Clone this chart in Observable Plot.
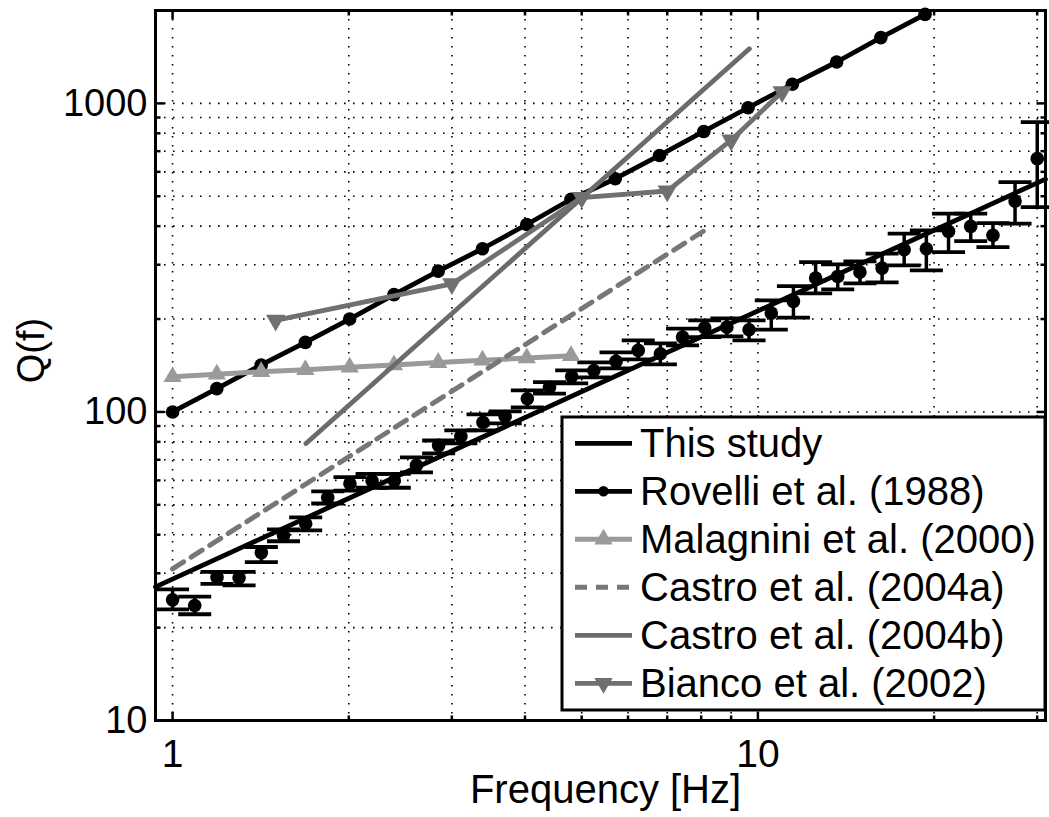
<!DOCTYPE html>
<html><head><meta charset="utf-8">
<script src="https://cdn.jsdelivr.net/npm/d3@7"></script>
<script src="https://cdn.jsdelivr.net/npm/@observablehq/plot@0.6"></script>
<style>
body{margin:0;background:#fff;}
#wrap{position:relative;width:1049px;height:817px;overflow:hidden;}
#legend{position:absolute;left:0;top:0;pointer-events:none;}
</style></head><body><div id="wrap"></div>
<script>
// ---- data ----
const studyFreq = [1.000,1.091,1.191,1.299,1.418,1.547,1.688,1.841,2.009,2.192,2.392,2.610,2.848,3.108,3.391,3.700,4.037,4.405,4.807,5.245,5.723,6.245,6.814,7.435,8.112,8.851,9.658,10.54,11.50,12.55,13.69,14.94,16.30,17.78,19.40,21.17,23.10,25.21,27.50,30.01];
const studyQ   = [24.6,23.6,29.1,29.0,35.0,39.8,43.4,52.8,58.5,59.8,59.8,67.1,77.9,83.3,92.5,96.7,110.4,120.1,130.3,136.3,145.8,158.3,154.4,174.8,187.5,188.3,184.7,209.1,228.2,271.6,274.9,283.9,292.5,335.6,338.1,384.7,399.3,373.4,482.3,662.0];
const studyQhi = [26.6,25.2,30.3,30.3,36.5,41.6,45.5,55.3,61.5,63.0,63.0,71.2,80.8,87.1,98.2,100.4,117.4,124.9,136.3,144.7,155.9,170.6,166.7,186.1,198.1,201.0,198.1,229.8,255.7,305.9,300.7,307.5,325.7,378.2,387.6,439.1,439.1,409.3,555.7,869.9];
const studyQlo = [22.9,22.1,27.7,27.4,32.6,38.1,41.3,50.5,55.6,56.8,56.8,63.7,73.4,79.1,87.1,91.8,103.4,114.6,123.7,129.4,138.4,148.0,142.6,164.3,174.8,175.7,170.6,184.7,202.0,242.2,249.5,260.9,262.9,298.5,287.6,329.6,357.8,342.1,407.4,461.2];
const fitFreq = [0.935, 31];
const fitQ    = [27.1, 568];
const rovelliFreq = [1.000,1.190,1.417,1.686,2.007,2.389,2.843,3.384,4.028,4.794,5.706,6.791,8.083,9.620,11.45,13.63,16.22,19.30];
const rovelliQ    = [100,119,142,168,200,240,286,338,405,489,570,678,811,968,1153,1362,1633,1943];
const malagniniFreq = [1.000,1.190,1.417,1.686,2.007,2.389,2.843,3.384,4.028,4.794];
const malagniniQ    = [130,132.5,135,137,139.5,142,144.5,147,149.5,152];
const castroAFreq = [1, 8.1];
const castroAQ    = [31, 387];
const castroBFreq = [1.69, 9.67];
const castroBQ    = [79, 1503];
const biancoFreq = [1.5, 3.0, 5.0, 7.0, 9.0, 11.0];
const biancoQ    = [198, 260, 495, 520, 760, 1090];
const xTicksMajor = [1, 10];
const xTicksMinor = [2,3,4,5,6,7,8,9,20,30];
const yTicksMajor = [10, 100, 1000];
const yTicksMinor = [20,30,40,50,60,70,80,90,200,300,400,500,600,700,800,900,2000];
const legendLabels = ["This study","Rovelli et al. (1988)","Malagnini et al. (2000)","Castro et al. (2004a)","Castro et al. (2004b)","Bianco et al. (2002)"];
const xLabel = "Frequency [Hz]";
const yLabel = "Q(f)";

// ---- build tables ----
const zip = (xs, ys) => xs.map((x, i) => ({x, y: ys[i]}));
const studyRows = studyFreq.map((f, i) => ({f, q: studyQ[i], lo: studyQlo[i], hi: studyQhi[i]}));
const fitRows = zip(fitFreq, fitQ);
const rovelliRows = zip(rovelliFreq, rovelliQ);
const malagniniRows = zip(malagniniFreq, malagniniQ);
const castroARows = zip(castroAFreq, castroAQ);
const castroBRows = zip(castroBFreq, castroBQ);
const biancoRows = zip(biancoFreq, biancoQ);

const cGrayLight = "#9a9a9a", cCastroA = "#777777", cCastroB = "#6b6b6b", cBianco = "#707070";
const font = "'Liberation Sans', Arial, Helvetica, sans-serif";

const capSym = {draw(ctx){ ctx.moveTo(-16.5, 0); ctx.lineTo(16.5, 0); }};
const seg = (dx, dy) => ({draw(ctx){ ctx.moveTo(0, 0); ctx.lineTo(dx, dy); }});
const dotted = {stroke: "black", strokeWidth: 1.6, strokeDasharray: "1.6,7.4"};
const tk = {stroke: "black", fill: "none", strokeWidth: 2.5};

const plot = Plot.plot({
  width: 1049, height: 817,
  marginLeft: 155, marginRight: 4, marginTop: 10, marginBottom: 97,
  style: {fontFamily: font, background: "white", color: "black", overflow: "visible"},
  x: {type: "log", domain: [0.935, 31], axis: null},
  y: {type: "log", domain: [10, 2000], axis: null},
  marks: [
    Plot.ruleX([...xTicksMajor, ...xTicksMinor], dotted),
    Plot.ruleY([...yTicksMajor, ...yTicksMinor], dotted),
    // this study: error bars + points
    Plot.ruleX(studyRows, {x: "f", y1: "lo", y2: "hi", stroke: "black", strokeWidth: 3.5}),
    Plot.dot(studyRows, {x: "f", y: "hi", symbol: capSym, stroke: "black", fill: "none", strokeWidth: 3.8}),
    Plot.dot(studyRows, {x: "f", y: "lo", symbol: capSym, stroke: "black", fill: "none", strokeWidth: 3.8}),
    Plot.dot(studyRows, {x: "f", y: "q", r: 6.8, fill: "black", stroke: "none"}),
    Plot.line(fitRows, {x: "x", y: "y", stroke: "black", strokeWidth: 4.8}),
    // Rovelli
    Plot.line(rovelliRows, {x: "x", y: "y", stroke: "black", strokeWidth: 4.8}),
    Plot.dot(rovelliRows, {x: "x", y: "y", r: 6.8, fill: "black", stroke: "none"}),
    // Malagnini
    Plot.line(malagniniRows, {x: "x", y: "y", stroke: cGrayLight, strokeWidth: 5}),
    Plot.dot(malagniniRows, {x: "x", y: "y", symbol: "triangle", r: 6.8, fill: cGrayLight, stroke: "none"}),
    // Castro a / b
    Plot.line(castroARows, {x: "x", y: "y", stroke: cCastroA, strokeWidth: 5, strokeDasharray: "13,9"}),
    Plot.line(castroBRows, {x: "x", y: "y", stroke: cCastroB, strokeWidth: 4.8}),
    // Bianco
    Plot.line(biancoRows, {x: "x", y: "y", stroke: cBianco, strokeWidth: 4.8}),
    Plot.dot(biancoRows, {x: "x", y: "y", symbol: "triangle", rotate: 180, r: 7.2, fill: cBianco, stroke: "none"}),
    // inward ticks on all four sides
    Plot.dot(xTicksMajor, {x: d => d, frameAnchor: "bottom", symbol: seg(0, -9), ...tk}),
    Plot.dot(xTicksMinor, {x: d => d, frameAnchor: "bottom", symbol: seg(0, -5), ...tk}),
    Plot.dot(xTicksMajor, {x: d => d, frameAnchor: "top", symbol: seg(0, 9), ...tk}),
    Plot.dot(xTicksMinor, {x: d => d, frameAnchor: "top", symbol: seg(0, 5), ...tk}),
    Plot.dot(yTicksMajor, {y: d => d, frameAnchor: "left", symbol: seg(9, 0), ...tk}),
    Plot.dot(yTicksMinor, {y: d => d, frameAnchor: "left", symbol: seg(5, 0), ...tk}),
    Plot.dot(yTicksMajor, {y: d => d, frameAnchor: "right", symbol: seg(-9, 0), ...tk}),
    Plot.dot(yTicksMinor, {y: d => d, frameAnchor: "right", symbol: seg(-5, 0), ...tk}),
    Plot.frame({stroke: "black", strokeWidth: 3}),
    // tick labels
    Plot.axisX({ticks: xTicksMajor, tickSize: 0, tickPadding: 19, fontSize: 39, label: null, tickFormat: d => String(d)}),
    Plot.axisY({ticks: yTicksMajor, tickSize: 0, tickPadding: 8, fontSize: 38, label: null, tickFormat: d => String(d)}),
    // axis titles
    Plot.text([xLabel], {text: d => d, frameAnchor: "bottom", dx: 5, dy: 82, lineAnchor: "bottom", fontSize: 40}),
    Plot.text([yLabel], {text: d => d, frameAnchor: "left", textAnchor: "middle", lineAnchor: "middle", dx: -124, dy: -15, rotate: -90, fontSize: 38})
  ]
});
const wrap = document.getElementById("wrap");
wrap.appendChild(plot);

// ---- legend overlay ----
const lg = d3.select(wrap).append("svg").attr("id", "legend").attr("width", 1049).attr("height", 817);
lg.append("rect").attr("x", 562).attr("y", 417).attr("width", 483).attr("height", 293)
  .attr("fill", "white").attr("stroke", "black").attr("stroke-width", 3);
const styles = [
  {stroke: "black", w: 4.8, dash: null, marker: null},
  {stroke: "black", w: 4.8, dash: null, marker: "circle"},
  {stroke: cGrayLight, w: 5, dash: null, marker: "up"},
  {stroke: cCastroA, w: 5, dash: "12,9", marker: null},
  {stroke: cCastroB, w: 4.8, dash: null, marker: null},
  {stroke: cBianco, w: 4.8, dash: null, marker: "down"}
];
legendLabels.forEach((lab, i) => {
  const cy = 443.3 + i * 48;
  const s = styles[i];
  lg.append("line").attr("x1", 575).attr("x2", 632).attr("y1", cy).attr("y2", cy)
    .attr("stroke", s.stroke).attr("stroke-width", s.w).attr("stroke-dasharray", s.dash);
  if (s.marker === "circle") lg.append("circle").attr("cx", 603.5).attr("cy", cy).attr("r", 5.2).attr("fill", "black");
  if (s.marker === "up" || s.marker === "down") {
    const path = d3.symbol(d3.symbolTriangle, Math.PI * 6.8 * 6.8)();
    lg.append("path").attr("d", path).attr("fill", s.stroke)
      .attr("transform", `translate(603.5,${cy})` + (s.marker === "down" ? " rotate(180)" : ""));
  }
  lg.append("text").attr("x", 640).attr("y", cy + 14).attr("font-family", font).attr("font-size", 40)
    .attr("fill", "black").text(lab);
});
</script></body></html>
